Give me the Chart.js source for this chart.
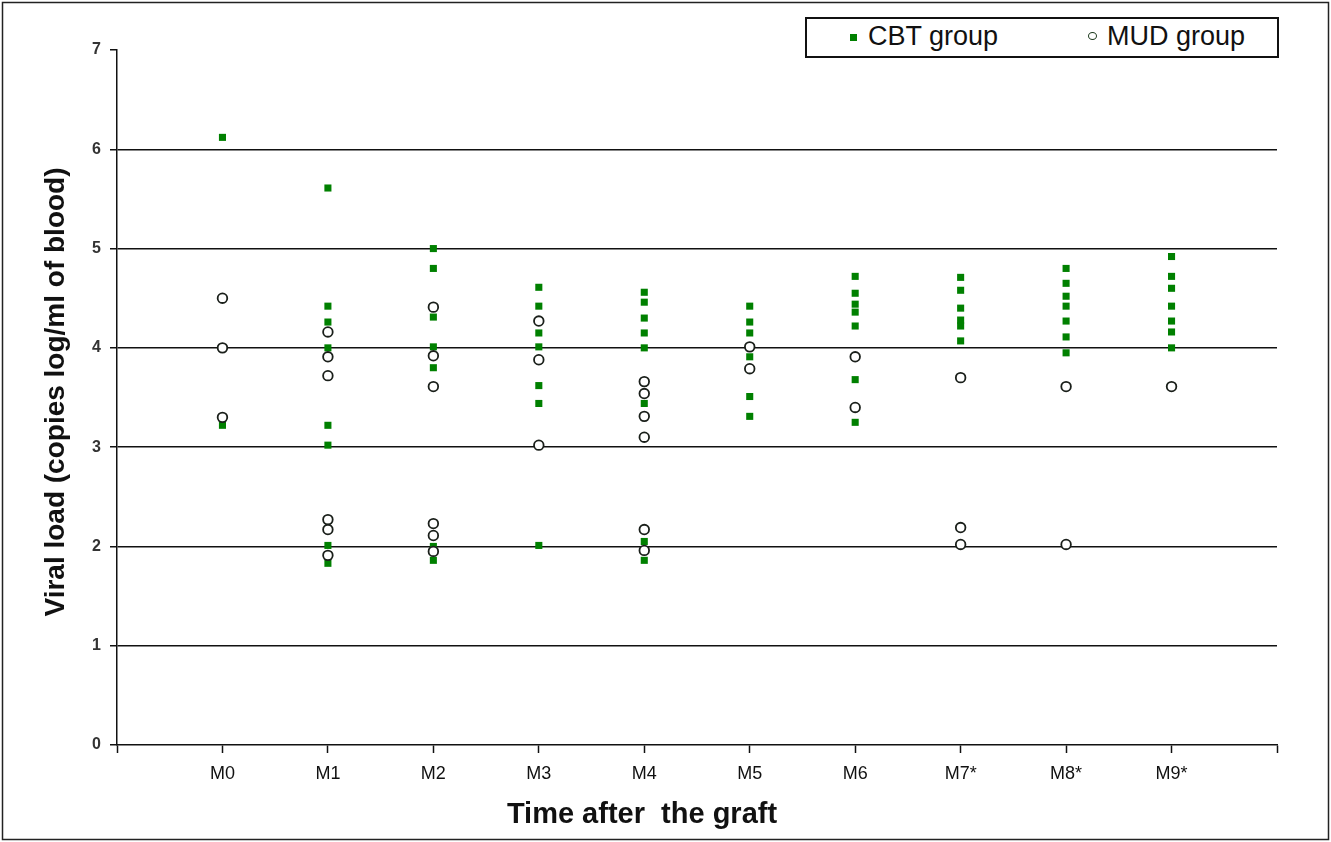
<!DOCTYPE html>
<html lang="en">
  <head>
    <meta charset="UTF-8" />
    <title>Viral load after the graft</title>
    <script src="https://cdn.jsdelivr.net/npm/chart.js"></script>
    <style>
      body {
        margin: 0;
        background: white;
        font-family: "Liberation Sans", Arial, sans-serif;
      }
      .wrap {
        position: relative;
        width: 1331px;
        height: 842px;
      }
      .legend {
        position: absolute;
        left: 805px;
        top: 17px;
        width: 470px;
        height: 37px;
        border: 2px solid #111;
        background: white;
        font-size: 27px;
        color: #111;
      }
      .legend span {
        position: absolute;
        top: 2px;
      }
      .swatch-cbt {
        position: absolute;
        left: 43px;
        top: 15px;
        width: 7px;
        height: 7px;
        background: #008000;
      }
      .swatch-mud {
        position: absolute;
        left: 281px;
        top: 13px;
        width: 7px;
        height: 6px;
        border: 1.5px solid #1e3a1e;
        border-radius: 50%;
      }
    </style>
  </head>
  <body>
    <div class="wrap">
      <canvas id="viralChart" width="1331" height="842"></canvas>
      <div class="legend">
        <div class="swatch-cbt"></div><span style="left: 61px">CBT group</span>
        <div class="swatch-mud"></div><span style="left: 300px">MUD group</span>
      </div>
    </div>

    <script>
      // data (log copies/ml)
      const months = ["M0", "M1", "M2", "M3", "M4", "M5", "M6", "M7*", "M8*", "M9*"];

      const cbtByMonth = [
        [6.12, 3.22],
        [5.61, 4.42, 4.26, 4.0, 3.22, 3.02, 2.01, 1.83],
        [5.0, 4.8, 4.31, 4.01, 3.8, 2.0, 1.86],
        [4.61, 4.42, 4.15, 4.01, 3.62, 3.44, 2.01],
        [4.56, 4.46, 4.3, 4.15, 4.0, 3.44, 2.05, 1.86],
        [4.42, 4.26, 4.15, 3.91, 3.51, 3.31],
        [4.72, 4.55, 4.44, 4.36, 4.22, 3.68, 3.25],
        [4.71, 4.58, 4.4, 4.28, 4.22, 4.07],
        [4.8, 4.65, 4.52, 4.42, 4.27, 4.11, 3.95],
        [4.92, 4.72, 4.6, 4.42, 4.27, 4.16, 4.0],
      ];

      const mudByMonth = [
        [4.5, 4.0, 3.3],
        [4.16, 3.91, 3.72, 2.27, 2.17, 1.91],
        [4.41, 3.92, 3.61, 2.23, 2.11, 1.95],
        [4.27, 3.88, 3.02],
        [3.66, 3.54, 3.31, 3.1, 2.17, 1.96],
        [4.01, 3.79],
        [3.91, 3.4],
        [3.7, 2.19, 2.02],
        [3.61, 2.02],
        [3.61],
      ];

      const yTicks = [0, 1, 2, 3, 4, 5, 6, 7];

      function toPoints(groups) {
        const pts = [];
        groups.forEach((vals, i) => {
          vals.forEach((v) => pts.push({ x: i + 1, y: v }));
        });
        return pts;
      }

      // frame + axis titles
      const decorations = {
        id: "decorations",
        beforeDraw(chart) {
          const ctx = chart.ctx;
          ctx.save();
          ctx.fillStyle = "white";
          ctx.fillRect(0, 0, chart.width, chart.height);
          ctx.restore();
        },
        afterDraw(chart) {
          const ctx = chart.ctx;
          const area = chart.chartArea;
          ctx.save();
          ctx.strokeStyle = "#222";
          ctx.lineWidth = 1.5;
          ctx.strokeRect(2.5, 2.5, chart.width - 5, chart.height - 5);

          ctx.fillStyle = "#111";
          ctx.font = "bold 29px 'Liberation Sans', Arial, sans-serif";
          ctx.textAlign = "center";
          ctx.textBaseline = "middle";
          ctx.fillText("Time after  the graft", area.left + 525, 815);

          ctx.translate(56, area.top + 342);
          ctx.rotate(-Math.PI / 2);
          ctx.font = "bold 28px 'Liberation Sans', Arial, sans-serif";
          ctx.fillText("Viral load (copies log/ml of blood)", 0, 0);
          ctx.restore();
        },
      };

      const config = {
        type: "scatter",
        data: {
          datasets: [
            {
              label: "CBT group",
              data: toPoints(cbtByMonth),
              pointStyle: "rect",
              pointRadius: 5,
              pointHoverRadius: 5,
              backgroundColor: "#008000",
              borderWidth: 0,
              order: 2,
            },
            {
              label: "MUD group",
              data: toPoints(mudByMonth),
              pointStyle: "circle",
              pointRadius: 4.8,
              pointHoverRadius: 4.8,
              backgroundColor: "white",
              borderColor: "#1a1f1a",
              borderWidth: 1.8,
              order: 1,
            },
          ],
        },
        options: {
          responsive: false,
          animation: false,
          layout: { padding: { left: 0, top: 50, right: 54, bottom: 0 } },
          plugins: {
            legend: { display: false },
            tooltip: { enabled: false },
          },
          scales: {
            x: {
              type: "linear",
              min: 0,
              max: 11,
              afterFit: (s) => { s.height = 97; },
              ticks: {
                stepSize: 1,
                autoSkip: false,
                maxRotation: 0,
                padding: 10,
                color: "#111",
                font: { size: 18, family: "'Liberation Sans', Arial, sans-serif" },
                callback: (v) => (v >= 1 && v <= months.length ? months[v - 1] : ""),
              },
              grid: {
                drawOnChartArea: false,
                drawTicks: true,
                tickLength: 8,
                tickColor: "#111",
                tickWidth: 1.5,
              },
              border: { display: true, color: "#111", width: 1.5 },
            },
            y: {
              min: 0,
              max: 7,
              afterFit: (s) => { s.width = 117; },
              afterBuildTicks: (s) => { s.ticks = yTicks.map((v) => ({ value: v })); },
              ticks: {
                padding: 9,
                color: "#333",
                font: { size: 16, weight: "bold", family: "'Liberation Sans', Arial, sans-serif" },
              },
              grid: {
                color: (c) => (c.tick && c.tick.value > 0 && c.tick.value < 7 ? "#111" : "rgba(0,0,0,0)"),
                lineWidth: 1.5,
                drawTicks: true,
                tickLength: 7,
                tickColor: "#111",
                tickWidth: 1.5,
              },
              border: { display: true, color: "#111", width: 1.5 },
            },
          },
        },
        plugins: [decorations],
      };

      new Chart(document.getElementById("viralChart"), config);
    </script>
  </body>
</html>
